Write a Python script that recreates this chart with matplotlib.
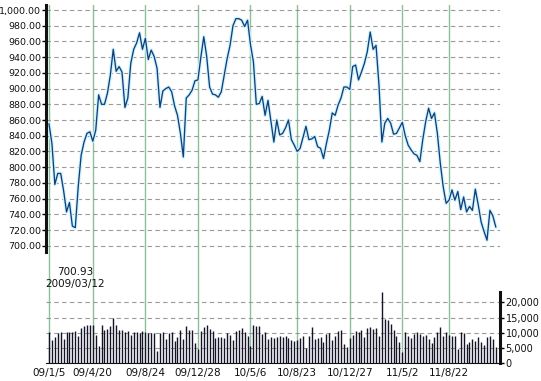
import matplotlib
matplotlib.use("Agg")
import matplotlib.pyplot as plt
import matplotlib.transforms as mtransforms
import numpy as np

# weekly closes, 2009/01/05 .. late 2011
price = [
    855, 830, 778, 792, 792, 770, 743, 755, 725, 723,
    775, 815, 832, 843, 845, 833, 847, 892, 880, 880,
    894, 917, 950, 922, 928, 921, 876, 888, 932, 950,
    958, 971, 950, 964, 937, 949, 941, 926, 876, 897,
    900, 902, 896, 878, 866, 843, 813, 888, 892, 898,
    910, 911, 940, 966, 941, 902, 893, 892, 889, 896,
    917, 938, 955, 980, 989, 989, 987, 979, 987, 956,
    934, 880, 881, 890, 866, 885, 858, 832, 860, 841,
    843, 850, 860, 835, 828, 820, 824, 838, 852, 835,
    836, 839, 826, 824, 811, 830, 847, 869, 866, 879,
    888, 902, 902, 899, 928, 930, 911, 921, 932, 947,
    972, 950, 955, 905, 832, 856, 862, 856, 842, 843,
    850, 857, 840, 828, 822, 817, 815, 807, 835, 858,
    875, 862, 869, 843, 805, 775, 754, 758, 771, 758,
    769, 746, 762, 743, 750, 745, 772, 752, 730, 718,
    707, 745, 738, 724,
]

# weekly volume (thousands)
volume = [
    10.1, 7.7, 8.7, 9.8, 10.1, 7.9, 10.1, 10.3, 10.3, 10.5,
    8.8, 11.4, 12.3, 12.7, 12.7, 12.5, 9.4, 5.7, 12.7, 10.9,
    11.2, 12.3, 14.7, 12.7, 11.0, 10.8, 10.1, 10.7, 9.2, 10.1,
    10.3, 9.9, 10.5, 10.1, 9.8, 9.9, 9.9, 4.1, 9.9, 10.1,
    7.9, 9.8, 10.1, 7.4, 8.5, 10.9, 7.9, 12.3, 10.9, 10.9,
    6.6, 4.6, 10.7, 11.8, 12.7, 11.2, 10.7, 8.3, 8.5, 8.5,
    8.3, 9.8, 9.2, 7.7, 10.7, 10.9, 11.4, 10.3, 9.0, 5.7,
    12.7, 12.1, 12.1, 9.6, 10.3, 7.9, 8.5,
    8.3, 8.5, 9.0, 8.5, 9.0, 8.3, 7.6, 7.4, 7.7, 8.1,
    8.8, 4.8, 9.0, 11.8, 7.9, 8.1, 8.7, 7.0, 9.6, 9.8,
    7.6, 9.0, 10.7, 10.9, 6.3, 5.2, 8.1, 9.4, 10.7, 10.1,
    10.9, 8.7, 11.4, 12.0, 11.2, 11.4, 9.0, 23.3, 14.5, 14.3,
    12.9, 10.9, 8.8, 6.8, 3.5, 10.3, 9.0, 8.1, 9.6, 10.1,
    9.6, 9.0, 9.2, 7.9, 6.6, 8.5, 10.1, 12.0, 9.0, 10.1,
    9.4, 9.0, 8.8, 4.6, 10.1, 9.8, 6.3, 7.0, 7.9, 7.4,
    8.7, 7.0, 5.9, 8.5, 8.8, 7.9, 5.2,
]

first_week = "2009-01-05"
tick_weeks = [0, 15, 33, 51, 69, 85, 103, 121, 137]
tick_labels = ["09/1/5", "09/4/20", "09/8/24", "09/12/28", "10/5/6",
               "10/8/23", "10/12/27", "11/5/2", "11/8/22"]

low_value = "700.93"
low_date = "2009/03/12"

price_ticks = np.arange(700, 1001, 20)
vol_ticks = [0, 5000, 10000, 15000, 20000]

W, H = 541, 381
fig = plt.figure(figsize=(W / 100, H / 100), dpi=100)
fig.patch.set_facecolor("white")

x = np.arange(len(price))
xlim = (-1.03, 154.45)

def px_axes(x0, y0, x1, y1):
    return fig.add_axes([x0 / W, 1 - y1 / H, (x1 - x0) / W, (y1 - y0) / H])

# background axes with green vertical lines + date labels
bg = px_axes(46, 5, 500, 363)
bg.set_xlim(*xlim)
bg.set_ylim(0, 1)
for s in bg.spines.values():
    s.set_visible(False)
bg.set_yticks([])
for w in tick_weeks:
    bg.axvline(w, color="#8cbf9c", lw=1.0, zorder=0)
bg.set_xticks(tick_weeks)
bg.set_xticklabels(tick_labels, fontsize=7.5, color="#111111")
bg.tick_params(axis="x", length=0, pad=3.5)
bg.patch.set_alpha(0)

# price panel
ax = px_axes(46, 5, 500, 252)
ax.patch.set_alpha(0)
ax.set_xlim(*xlim)
ax.set_ylim(692.0, 1006.4)
for side in ["top", "right", "bottom"]:
    ax.spines[side].set_visible(False)
ax.spines["left"].set_linewidth(2.2)
ax.spines["left"].set_color("#111111")
ax.set_xticks([])
ax.set_yticks(price_ticks)
ax.set_yticklabels(["{:,.2f}".format(v) for v in price_ticks], fontsize=6.8, color="#111111")
ax.tick_params(axis="y", length=3, width=1, pad=0.5)
for v in price_ticks:
    ax.axhline(v, color="#9a9a9a", lw=0.8, ls=(0, (4, 3)), zorder=1)
ax.plot(x, price, color="#cdf3ff", lw=2.6, zorder=2, solid_joinstyle="round")
ax.plot(x, price, color="#123f78", lw=0.95, zorder=3)

# low annotation below the panel, at the week of the low
low_week = int((np.datetime64(low_date.replace("/", "-")) - np.datetime64(first_week)) // np.timedelta64(7, "D"))
trans = mtransforms.blended_transform_factory(ax.transData, fig.transFigure)
fig.text(low_week, 1 - 272 / H, low_value, transform=trans, ha="center", va="center",
         fontsize=7.5, color="#111111")
fig.text(low_week, 1 - 284 / H, low_date, transform=trans, ha="center", va="center",
         fontsize=7.5, color="#111111")

# volume panel
av = px_axes(46, 292, 500, 363)
av.patch.set_alpha(0)
av.set_xlim(*xlim)
av.set_ylim(0, 23430)
for side in ["top", "left"]:
    av.spines[side].set_visible(False)
av.spines["right"].set_linewidth(2.2)
av.spines["right"].set_color("#111111")
av.spines["bottom"].set_color("#111111")
av.yaxis.tick_right()
av.set_xticks([])
av.set_yticks(vol_ticks)
av.set_yticklabels(["{:,.0f}".format(v) for v in vol_ticks], fontsize=7, color="#111111")
av.tick_params(axis="y", length=3, width=1, pad=1)
for v in vol_ticks[1:]:
    av.axhline(v, color="#9a9a9a", lw=0.8, ls=(0, (4, 3)), zorder=1)
av.vlines(np.arange(len(volume)), 0, np.array(volume) * 1000, color="#141428", lw=1.0, zorder=2)

fig.savefig("out.png", dpi=100, facecolor="white")
